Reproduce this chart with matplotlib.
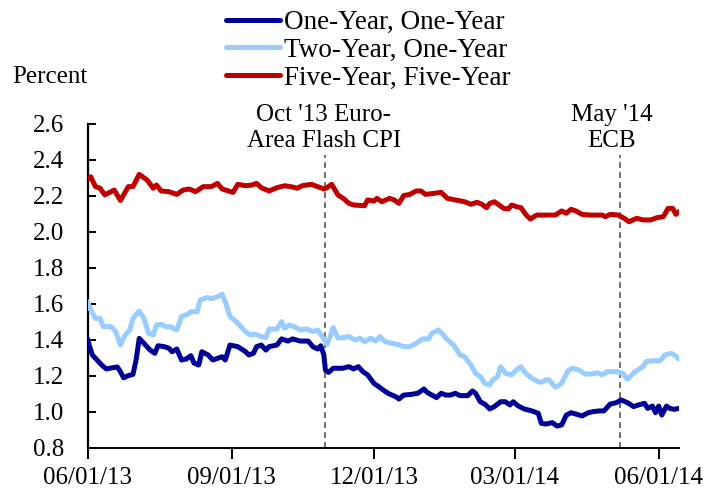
import matplotlib
matplotlib.use("Agg")
import matplotlib.pyplot as plt
import matplotlib.dates as mdates
import matplotlib.transforms as mtransforms
import pandas as pd

START = "2013-06-01"

# Five-Year, Five-Year (days since 2013-06-01, percent)
red_days = [0, 2, 5, 8, 11, 17, 21, 26, 29, 33, 38, 42, 44, 47, 52, 57, 61, 65, 69, 74,
            79, 83, 86, 90, 93, 96, 101, 105, 108, 111, 116, 121, 126, 130, 134, 137, 143, 147,
            151, 153, 156, 160, 164, 167, 170, 177, 179, 183, 185, 188, 193, 196, 199, 202, 206,
            210, 213, 216, 226, 230, 235, 241, 245, 249, 252, 255, 257, 260, 263, 266, 269, 271,
            274, 277, 280, 283, 287, 292, 299, 303, 306, 309, 312, 316, 322, 329, 331, 334, 339,
            343, 346, 351, 355, 360, 364, 368, 371, 374, 376, 378]
red_vals = [2.294, 2.307, 2.252, 2.243, 2.206, 2.233, 2.175, 2.252, 2.252, 2.32, 2.289, 2.243,
            2.261, 2.228, 2.224, 2.209, 2.233, 2.239, 2.224, 2.252, 2.252, 2.27, 2.239, 2.228,
            2.22, 2.265, 2.257, 2.261, 2.27, 2.246, 2.228, 2.246, 2.257, 2.252, 2.243, 2.257,
            2.265, 2.252, 2.239, 2.246, 2.265, 2.206, 2.183, 2.159, 2.15, 2.146, 2.178, 2.172,
            2.187, 2.168, 2.187, 2.178, 2.159, 2.202, 2.209, 2.228, 2.228, 2.209, 2.22, 2.187,
            2.178, 2.168, 2.154, 2.165, 2.154, 2.135, 2.159, 2.168, 2.15, 2.131, 2.128, 2.15,
            2.141, 2.135, 2.098, 2.072, 2.094, 2.094, 2.094, 2.117, 2.104, 2.126, 2.117, 2.098,
            2.094, 2.094, 2.085, 2.098, 2.094, 2.076, 2.057, 2.076, 2.067, 2.067, 2.08, 2.085,
            2.131, 2.131, 2.098, 2.113]

# Two-Year, One-Year
lb_days = [0, 2, 5, 8, 10, 15, 18, 21, 24, 27, 29, 33, 36, 39, 42, 44, 47, 50, 53, 57, 60, 64,
           66, 70, 72, 76, 80, 83, 86, 88, 91, 95, 98, 101, 104, 107, 111, 114, 116, 121, 124,
           126, 129, 132, 136, 140, 144, 147, 150, 153, 155, 157, 160, 163, 167, 171, 174, 177,
           181, 184, 187, 190, 194, 198, 202, 206, 210, 214, 218, 220, 224, 227, 230, 234, 238,
           241, 245, 248, 251, 254, 257, 259, 262, 264, 267, 271, 274, 277, 280, 284, 288, 290,
           293, 295, 299, 303, 307, 310, 314, 318, 322, 326, 329, 332, 339, 342, 345, 350, 355,
           357, 362, 366, 369, 373, 376, 378]
lb_vals = [1.613, 1.567, 1.52, 1.52, 1.474, 1.474, 1.446, 1.372, 1.428, 1.456, 1.52, 1.561, 1.52,
           1.437, 1.428, 1.483, 1.487, 1.474, 1.474, 1.456, 1.53, 1.543, 1.557, 1.557, 1.622,
           1.635, 1.631, 1.641, 1.654, 1.613, 1.53, 1.502, 1.474, 1.446, 1.428, 1.432, 1.419,
           1.413, 1.461, 1.461, 1.502, 1.465, 1.483, 1.474, 1.456, 1.461, 1.446, 1.456, 1.419,
           1.376, 1.419, 1.469, 1.41, 1.413, 1.419, 1.4, 1.41, 1.391, 1.41, 1.394, 1.419, 1.391,
           1.382, 1.376, 1.363, 1.363, 1.382, 1.406, 1.406, 1.437, 1.456, 1.432, 1.4, 1.372,
           1.317, 1.307, 1.261, 1.215, 1.196, 1.159, 1.15, 1.178, 1.196, 1.252, 1.215, 1.206,
           1.233, 1.252, 1.215, 1.187, 1.169, 1.165, 1.178, 1.178, 1.137, 1.159, 1.229, 1.243,
           1.233, 1.211, 1.211, 1.218, 1.206, 1.224, 1.224, 1.215, 1.182, 1.224, 1.252, 1.28,
           1.285, 1.285, 1.317, 1.326, 1.311, 1.293]

# One-Year, One-Year
db_days = [0, 1, 3, 6, 9, 12, 16, 19, 21, 23, 26, 29, 31, 33, 37, 40, 43, 45, 49, 52, 54, 57,
           60, 63, 66, 68, 71, 73, 77, 80, 83, 86, 88, 91, 96, 101, 103, 106, 108, 111, 114, 116,
           121, 124, 128, 131, 136, 141, 144, 147, 149, 151, 152, 154, 157, 163, 167, 170, 173,
           176, 179, 183, 186, 189, 192, 197, 199, 202, 207, 211, 215, 217, 223, 226, 229, 232,
           235, 238, 243, 246, 248, 251, 254, 257, 260, 264, 267, 270, 272, 275, 279, 284, 288,
           290, 293, 297, 300, 303, 306, 309, 312, 316, 320, 323, 327, 330, 334, 338, 341, 345,
           349, 352, 356, 358, 361, 363, 365, 367, 370, 372, 375, 378]
db_vals = [1.406, 1.372, 1.317, 1.289, 1.261, 1.239, 1.246, 1.25, 1.224, 1.19, 1.202, 1.209,
           1.289, 1.409, 1.372, 1.344, 1.326, 1.368, 1.363, 1.354, 1.335, 1.35, 1.289, 1.294,
           1.313, 1.272, 1.261, 1.335, 1.317, 1.289, 1.298, 1.307, 1.289, 1.372, 1.363, 1.335,
           1.317, 1.326, 1.363, 1.372, 1.344, 1.363, 1.372, 1.406, 1.394, 1.406, 1.394, 1.394,
           1.363, 1.35, 1.368, 1.317, 1.233, 1.22, 1.243, 1.243, 1.252, 1.239, 1.252, 1.224,
           1.206, 1.159, 1.141, 1.122, 1.104, 1.085, 1.072, 1.094, 1.098, 1.104, 1.128, 1.109,
           1.08, 1.104, 1.094, 1.094, 1.104, 1.091, 1.091, 1.117, 1.104, 1.057, 1.043, 1.017,
           1.03, 1.057, 1.057, 1.039, 1.057, 1.035, 1.017, 1.006, 0.993, 0.937, 0.933, 0.941,
           0.922, 0.928, 0.983, 0.996, 0.989, 0.978, 0.996, 1.002, 1.006, 1.006, 1.044, 1.052,
           1.067, 1.052, 1.03, 1.039, 1.048, 1.02, 1.033, 0.996, 1.033, 0.983, 1.033, 1.02,
           1.015, 1.02]

series_labels = ["One-Year, One-Year", "Two-Year, One-Year", "Five-Year, Five-Year"]
series_colors = ["#000099", "#99CCFF", "#C00000"]

event_dates = ["2013-10-31", "2014-05-07"]
event_label_dates = ["2013-10-30", "2014-05-02"]
event_labels = ["Oct '13 Euro-\nArea Flash CPI", "May '14\nECB"]

xtick_dates = ["2013-06-01", "2013-09-01", "2013-12-01", "2014-03-01", "2014-06-01"]
yticks = [0.8, 1.0, 1.2, 1.4, 1.6, 1.8, 2.0, 2.2, 2.4, 2.6]

plt.rcParams['font.family'] = ['Liberation Serif', 'DejaVu Serif']
FS = 18
LFS = 19.5

def to_dates(days):
    return pd.Timestamp(START) + pd.to_timedelta(days, unit="D")

fig = plt.figure(figsize=(7.23, 4.93), dpi=100)
ax = fig.add_axes([87.6 / 723, 45 / 493, (679 - 87.6) / 723, 324 / 493])

lines = []
for days, vals, lab, col in zip([db_days, lb_days, red_days], [db_vals, lb_vals, red_vals],
                                series_labels, series_colors):
    ln, = ax.plot(to_dates(days), vals, color=col, lw=3.6, label=lab,
                  solid_joinstyle='round', solid_capstyle='round', zorder=3)
    lines.append(ln)

for d in event_dates:
    ax.vlines(pd.Timestamp(d), 0.8, 2.43, colors="#555555", linestyles=(0, (3.5, 2.5)),
              lw=1.2, zorder=2)

trans = mtransforms.blended_transform_factory(ax.transData, fig.transFigure)
for d, lab in zip(event_label_dates, event_labels):
    ax.text(pd.Timestamp(d), 1 - 128 / 493, lab, transform=trans, ha="center", va="center",
            fontsize=FS, linespacing=1.25, clip_on=False)

ax.set_xlim(pd.Timestamp(START), to_dates(378))
ax.set_ylim(0.8, 2.6)
ax.set_yticks(yticks)
ax.set_yticklabels([f"{v:.1f}" for v in yticks])
ax.set_xticks([pd.Timestamp(d) for d in xtick_dates])
ax.xaxis.set_major_formatter(mdates.DateFormatter("%m/%d/%y"))

for s in ["top", "right"]:
    ax.spines[s].set_visible(False)
ax.spines["left"].set_linewidth(1.6)
ax.spines["bottom"].set_linewidth(1.4)
ax.tick_params(axis="y", direction="in", length=6, width=1.4, pad=17, labelsize=FS)
ax.tick_params(axis="x", direction="out", length=8, width=1.4, pad=6, labelsize=FS)

fig.text(12 / 723, 1 - 77 / 493, "Percent", ha="left", va="center", fontsize=FS)

fig.legend(handles=lines, loc="upper left", bbox_to_anchor=(226 / 723, 1 - 10 / 493),
           frameon=False, fontsize=LFS, handlelength=2.0, handletextpad=0.15,
           labelspacing=0.1, borderpad=0, borderaxespad=0)

fig.savefig("out.png", dpi=100)
